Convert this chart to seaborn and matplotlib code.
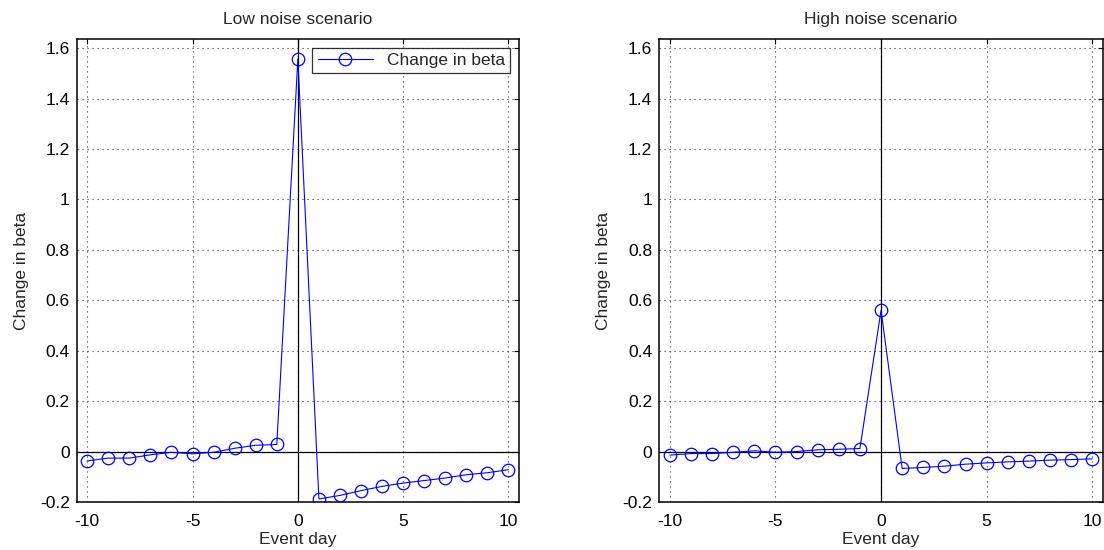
import numpy as np
import pandas as pd
import matplotlib
matplotlib.use("Agg")
import matplotlib.pyplot as plt
import seaborn as sns
from matplotlib.ticker import FuncFormatter

# Event window and estimated beta changes
event_days = list(range(-10, 11))
low_noise_change = [-0.037, -0.026, -0.026, -0.013, -0.003, -0.009, -0.003, 0.013, 0.025, 0.028,
                    1.557,
                    -0.188, -0.174, -0.155, -0.138, -0.125, -0.115, -0.105, -0.092, -0.084, -0.072]
high_noise_change = [-0.014, -0.008, -0.008, -0.003, 0.003, -0.003, 0.000, 0.007, 0.009, 0.012,
                     0.560,
                     -0.067, -0.063, -0.058, -0.050, -0.045, -0.041, -0.038, -0.034, -0.032, -0.029]
panel_titles = ["Low noise scenario", "High noise scenario"]
x_ticks = [-10, -5, 0, 5, 10]
y_ticks = [-0.2, 0, 0.2, 0.4, 0.6, 0.8, 1.0, 1.2, 1.4, 1.6]

sns.set_theme(style="white")
plt.rcParams["font.family"] = ["Liberation Sans", "DejaVu Sans"]
plt.rcParams["axes.unicode_minus"] = False

fig = plt.figure(figsize=(11.04, 5.5), dpi=100)
ax_left = fig.add_axes([0.0695, 0.0873, 0.4006, 0.8418])
ax_right = fig.add_axes([0.5972, 0.0873, 0.4017, 0.8418])

frames = [
    pd.DataFrame({"day": event_days, "change": low_noise_change}),
    pd.DataFrame({"day": event_days, "change": high_noise_change}),
]

fmt = FuncFormatter(lambda v, p: f"{v:g}")
fs = 12.5

for i, (ax, df, title) in enumerate(zip([ax_left, ax_right], frames, panel_titles)):
    ax.axhline(0, color="black", lw=0.9, zorder=1)
    ax.axvline(0, color="black", lw=0.9, zorder=1)
    sns.lineplot(data=df, x="day", y="change", ax=ax, color="blue",
                 marker="o", markersize=9, markerfacecolor="none",
                 markeredgecolor="blue", markeredgewidth=0.9, linewidth=0.8,
                 label="Change in beta" if i == 0 else None, zorder=3)
    ax.set_xlim(-10.5, 10.5)
    ax.set_ylim(-0.2, 1.636)
    ax.set_xticks(x_ticks)
    ax.set_yticks(y_ticks)
    ax.xaxis.set_major_formatter(fmt)
    ax.yaxis.set_major_formatter(fmt)
    ax.grid(True, color="#333333", linestyle=(0, (1, 3.5)), linewidth=0.8)
    ax.tick_params(direction="in", length=3.5, width=0.8, labelsize=fs,
                   top=True, right=True, colors="black")
    ax.tick_params(axis="x", pad=9)
    ax.tick_params(axis="y", pad=5)
    for s in ax.spines.values():
        s.set_color("black")
        s.set_linewidth(1.1)
    ax.set_xlabel("Event day", fontsize=fs, labelpad=2)
    ax.set_ylabel("Change in beta", fontsize=fs, labelpad=8)
    ax.set_title(title, fontsize=fs, pad=11)

leg = ax_left.legend(loc="upper right", fontsize=fs, frameon=True, fancybox=False,
                     edgecolor="black", borderaxespad=0.5, handlelength=3.2,
                     borderpad=0.3)
leg.get_frame().set_linewidth(0.9)
if ax_right.get_legend() is not None:
    ax_right.get_legend().remove()

fig.savefig("out.png", dpi=100, facecolor="white")
